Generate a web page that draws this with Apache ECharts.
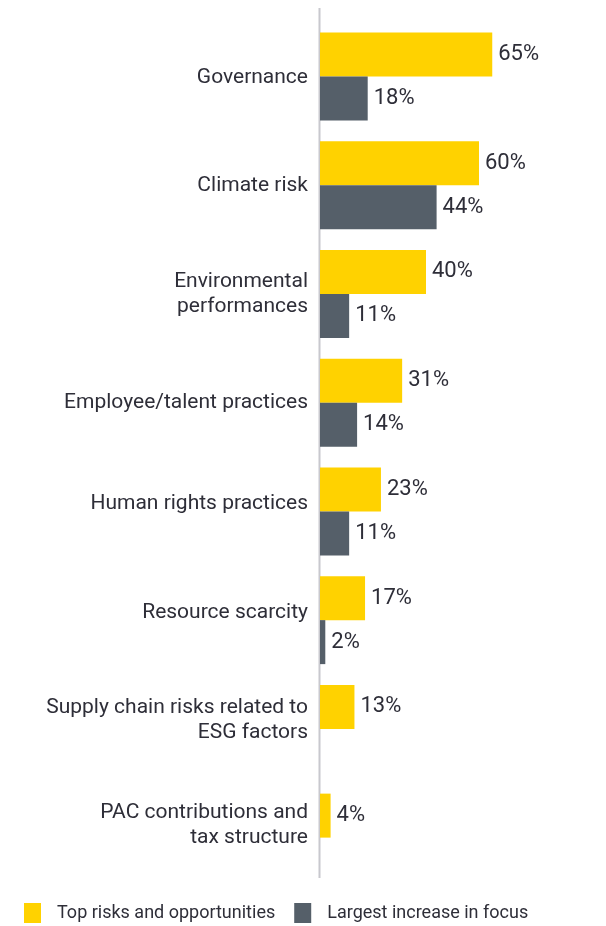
<!DOCTYPE html>
<html><head><meta charset="utf-8">
<script src="https://cdn.jsdelivr.net/npm/echarts@6/dist/echarts.min.js"></script>
<style>html,body{margin:0;padding:0;background:#fff}#c{width:606px;height:926px}</style>
</head><body><div id="c"></div>
<script>
var categories = ['Governance','Climate risk','Environmental\nperformances','Employee/talent practices','Human rights practices','Resource scarcity','Supply chain risks related to\nESG factors','PAC contributions and\ntax structure'];
var topRisks = [65,60,40,31,23,17,13,4];
var largestIncrease = [18,44,11,14,11,2,null,null];
var seriesNames = ['Top risks and opportunities','Largest increase in focus'];
// vertical nudge of each category label (px, + = down), as placed in the reference
var labelNudge = [1,1,0,0,-8,-7,-9,-12];

var FONT = 'Roboto';
var TXT = '#2e2e38';
var rich = {t: {color: TXT, fontSize: 21, fontFamily: FONT, lineHeight: 25, align: 'right'}};
labelNudge.forEach(function (s, i) {
  if (s !== 0) rich['g' + i] = {fontSize: 1, lineHeight: Math.abs(2 * s), align: 'right'};
});
function catLabel(value, idx) {
  var body = value.split('\n').map(function (l) { return '{t|' + l + '}'; }).join('\n');
  var s = labelNudge[idx];
  if (s > 0) return '{g' + idx + '| }\n' + body;
  if (s < 0) return body + '\n{g' + idx + '| }';
  return body;
}
var chart = echarts.init(document.getElementById('c'));
var lbl = {show:true, position:'right', distance:6, formatter:'{c}%', color:TXT, fontSize:22, fontFamily:FONT};
chart.setOption({
  animation:false,
  textStyle:{fontFamily:FONT},
  grid:{left:320, width:265, top:22, height:870},
  xAxis:{type:'value', min:0, max:100, show:false},
  yAxis:{type:'category', inverse:true, data:categories,
    axisLine:{show:false}, axisTick:{show:false},
    axisLabel:{color:TXT, fontSize:21, fontFamily:FONT, margin:12, lineHeight:25, align:'right', formatter:catLabel, rich:rich}},
  legend:{left:19, top:898, itemWidth:17, itemHeight:20, itemGap:19, icon:'rect',
    textStyle:{color:TXT, fontSize:18, fontFamily:FONT, padding:[0,0,0,11]}, data:seriesNames},
  graphic:[{type:'line', shape:{x1:319.5, y1:8, x2:319.5, y2:878}, style:{stroke:'#c8c8ce', lineWidth:2}}],
  series:[
    {name:seriesNames[0], type:'bar', data:topRisks, barWidth:44, barGap:'0%', itemStyle:{color:'#ffd200'}, label:lbl},
    {name:seriesNames[1], type:'bar', data:largestIncrease, barWidth:44, barGap:'0%', itemStyle:{color:'#555f69'}, label:lbl}
  ]
});
</script></body></html>
